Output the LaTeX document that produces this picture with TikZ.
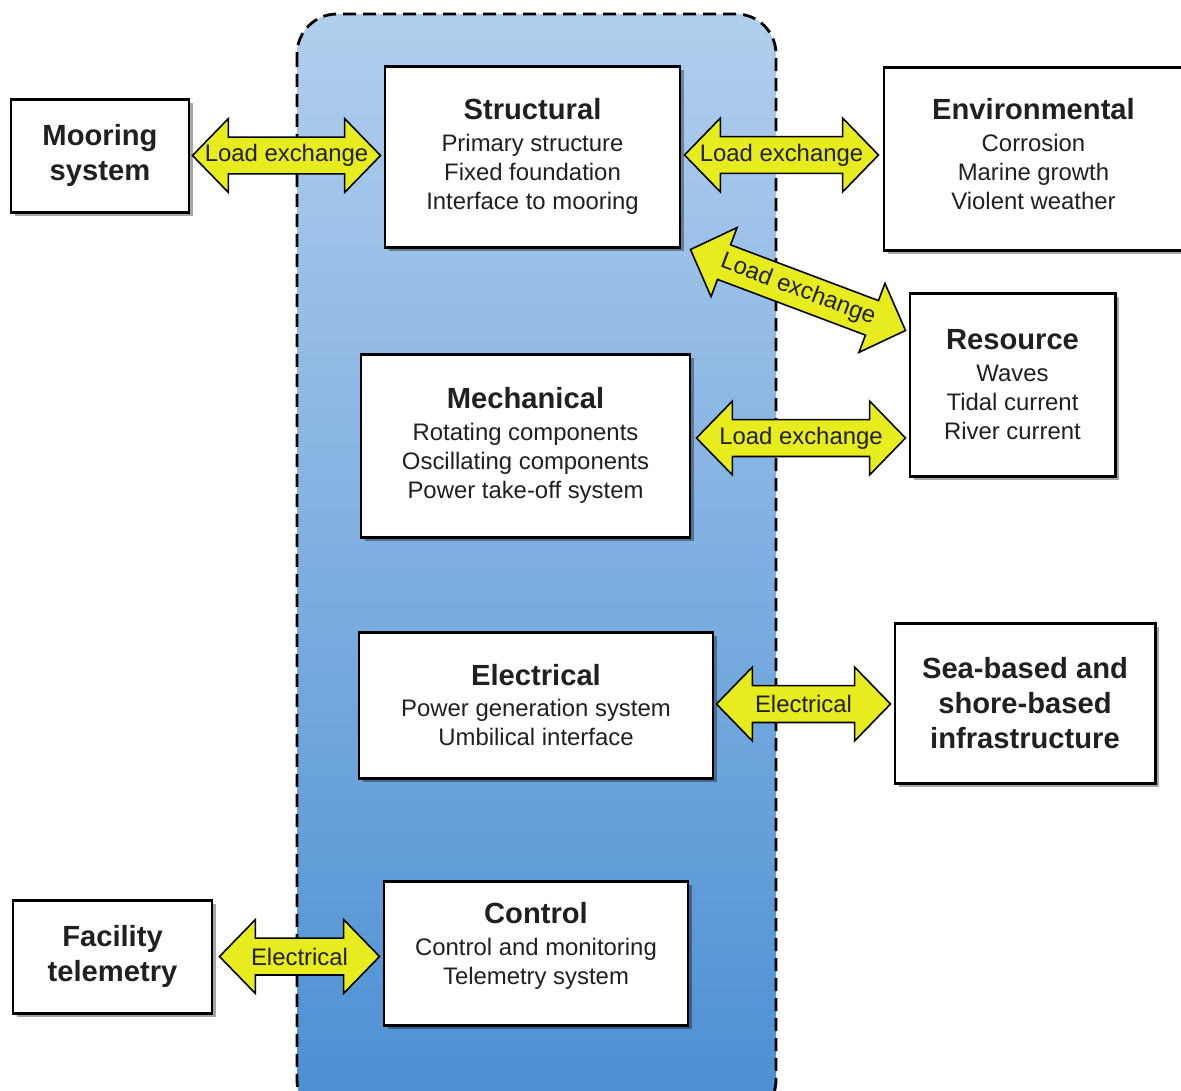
\documentclass[tikz,border=0pt]{standalone}
\usepackage{fontspec}
\setmainfont{Liberation Sans}
\usetikzlibrary{calc,shadows}
\definecolor{arrowyellow}{RGB}{230,236,30}
\definecolor{bluetop}{RGB}{178,206,238}
\definecolor{bluebot}{RGB}{74,143,210}
\definecolor{ink}{RGB}{35,31,32}
\newcommand\bodyfont{\fontsize{13.6}{16.4}\selectfont}
\newcommand\ttlfont{\fontsize{16.6}{19.8}\selectfont\bfseries}
\tikzset{
  box/.style={draw=black, line width=1.7pt, fill=white, align=center, font=\bodyfont, text=ink, inner sep=0pt,
    drop shadow={shadow xshift=2.5pt, shadow yshift=-2.5pt, opacity=0.35, fill=black}},
  sz/.style 2 args={minimum width=#1*0.02cm, minimum height=#2*0.02cm},
  arrowshape/.style={draw=black, line width=0.9pt, fill=arrowyellow, line join=miter},
  arrowlabel/.style={font=\bodyfont, text=ink, inner sep=0pt},
  container/.style={draw=black, line width=1.6pt, dash pattern=on 0.26cm off 0.14cm, top color=bluetop, bottom color=bluebot, rounded corners=0.8cm}
}
\newcommand\dblarrow[3]{%
  \path let \p1=($(#2)-(#1)$) in
    \pgfextra{\pgfmathparse{atan2(\y1,\x1)}\xdef\dbang{\pgfmathresult}%
              \pgfmathparse{veclen(\x1,\y1)}\xdef\dblen{\pgfmathresult}};
  \begin{scope}[shift={(#1)}, rotate=\dbang, x=1pt, y=1pt]
    \draw[arrowshape] (0,0) -- (20.4,21) -- (20.4,10.5) -- (\dblen-20.4,10.5) -- (\dblen-20.4,21) -- (\dblen,0)
      -- (\dblen-20.4,-21) -- (\dblen-20.4,-10.5) -- (20.4,-10.5) -- (20.4,-21) -- cycle;
    \node[arrowlabel, transform shape] at (\dblen/2,0) {#3};
  \end{scope}}
\begin{document}
\begin{tikzpicture}[x=0.02cm, y=-0.02cm]
\useasboundingbox (0,0) rectangle (1181,1090);
\fill[white] (0,0) rectangle (1181,1090);
\path[container] (297,14) rectangle (776,1120);

\node[box, sz={178}{113}, font=\ttlfont] (moor) at (100,155.5) {Mooring\\system};
\node[box, sz={295}{181}] (struct) at (532.5,156.5) {{\ttlfont Structural}\\[1.7pt]Primary structure\\Fixed foundation\\Interface to mooring};
\node[box, sz={299}{183}, text depth=5pt] (env) at (1033.5,158.5) {{\ttlfont Environmental}\\[1.7pt]Corrosion\\Marine growth\\Violent weather};
\node[box, sz={205}{183}] (res) at (1012.5,384.5) {{\ttlfont Resource}\\[1.7pt]Waves\\Tidal current\\River current};
\node[box, sz={329}{183}] (mech) at (525.5,445.5) {{\ttlfont Mechanical}\\[1.7pt]Rotating components\\Oscillating components\\Power take-off system};
\node[box, sz={354}{146}] (elec) at (536,705) {{\ttlfont Electrical}\\[1.7pt]Power generation system\\Umbilical interface};
\node[box, sz={260}{160}, font=\ttlfont] (sea) at (1025,703) {Sea-based and\\shore-based\\infrastructure};
\node[box, sz={304}{144}, text depth=11pt] (ctrl) at (536,953) {{\ttlfont Control}\\[1.7pt]Control and monitoring\\Telemetry system};
\node[box, sz={199}{113}, font=\ttlfont] (fac) at (112.5,956.5) {Facility\\telemetry};

\coordinate (a1s) at ($(moor.east)+(2,0)$);
\coordinate (a1e) at ($(struct.west |- moor.east)+(-3,0)$);
\coordinate (a2s) at ($(struct.east)+(3,-1.5)$);
\coordinate (a2e) at ($(env.west |- a2s)+(-4,0)$);
\coordinate (a3s) at ($(struct.south east)+(9,1)$);
\coordinate (a3e) at ($(res.west)+(-3,-54)$);
\coordinate (y4) at (0,438);
\coordinate (a4s) at ($(mech.east |- y4)+(5,0)$);
\coordinate (a4e) at ($(res.west |- y4)+(-3,0)$);
\coordinate (a5s) at ($(elec.east)+(2,-1)$);
\coordinate (a5e) at ($(sea.west |- a5s)+(-3,0)$);
\coordinate (a6s) at ($(fac.east)+(6,0)$);
\coordinate (a6e) at ($(ctrl.west |- fac.east)+(-3,0)$);

\dblarrow{a1s}{a1e}{Load exchange}
\dblarrow{a2s}{a2e}{Load exchange}
\dblarrow{a3s}{a3e}{Load exchange}
\dblarrow{a4s}{a4e}{Load exchange}
\dblarrow{a5s}{a5e}{Electrical}
\dblarrow{a6s}{a6e}{Electrical}
\end{tikzpicture}
\end{document}
